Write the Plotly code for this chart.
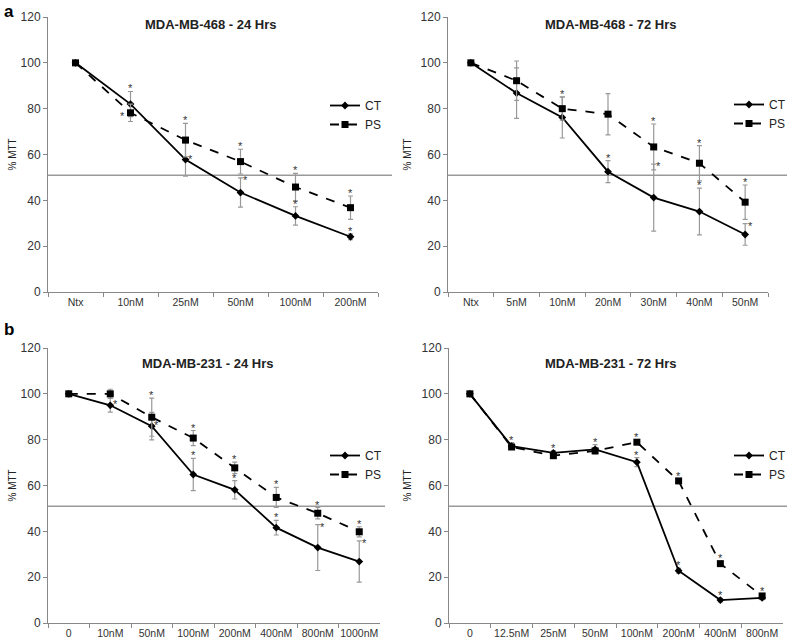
import plotly.graph_objects as go

# MDA-MB-468, 24 h
a24_labels = ["Ntx", "10nM", "25nM", "50nM", "100nM", "200nM"]
a24_ct = [100, 82, 57.8, 43.4, 33.2, 24.1]
a24_ct_err = [0, 5.5, 7.3, 6.4, 4, 1.3]
a24_ps = [100, 78.2, 66.3, 56.9, 45.8, 36.8]
a24_ps_err = [0, 3.8, 7.3, 5.4, 6, 5.1]

# MDA-MB-468, 72 h
a72_labels = ["Ntx", "5nM", "10nM", "20nM", "30nM", "40nM", "50nM"]
a72_ct = [100, 86.8, 76.2, 52.5, 41.2, 35.1, 25.1]
a72_ct_err = [0, 11, 9, 4.8, 14.6, 10.2, 4.7]
a72_ps = [100, 92.2, 80, 77.6, 63.3, 56.2, 39.2]
a72_ps_err = [0, 8.6, 5, 9, 10, 7.7, 7.5]

# MDA-MB-231, 24 h
b24_labels = ["0", "10nM", "50nM", "100nM", "200nM", "400nM", "800nM", "1000nM"]
b24_ct = [100, 95, 85.9, 64.8, 58.1, 41.6, 32.9, 26.8]
b24_ct_err = [0, 3, 6, 7, 4, 3.2, 10, 9]
b24_ps = [100, 100, 89.8, 80.7, 67.7, 54.8, 47.9, 39.8]
b24_ps_err = [0, 2, 8.3, 3.3, 2.5, 4.4, 2.5, 2.2]

# MDA-MB-231, 72 h
b72_labels = ["0", "12.5nM", "25nM", "50nM", "100nM", "200nM", "400nM", "800nM"]
b72_ct = [100, 77.2, 74.2, 75.8, 70.2, 22.8, 10, 11]
b72_ct_err = [0, 1.5, 1, 2, 2, 1, 0.8, 0.8]
b72_ps = [100, 76.8, 73, 75.1, 78.9, 62, 25.9, 11.8]
b72_ps_err = [0, 1, 1, 1, 1, 1, 1, 1]

ic50_line = 51

# significance stars: (category index, series, placement)
a24_stars = [(1, "ct", "top"), (1, "ps", "left"), (2, "ps", "top"), (2, "ct", "mid"),
             (3, "ps", "top"), (3, "ct", "side"), (4, "ps", "top"), (4, "ct", "top"),
             (5, "ps", "top"), (5, "ct", "top")]
a72_stars = [(2, "ps", "top"), (3, "ct", "top"), (4, "ps", "top"), (4, "ct", "side"),
             (5, "ps", "top"), (5, "ct", "top"), (6, "ps", "top"), (6, "ct", "side")]
b24_stars = [(1, "ct", "mid"), (2, "ps", "top"), (2, "ct", "mid"), (3, "ps", "top"),
             (3, "ct", "top"), (4, "ps", "top"), (4, "ct", "top"), (5, "ps", "top"),
             (5, "ct", "top"), (6, "ps", "top"), (6, "ct", "side"), (7, "ps", "top"),
             (7, "ct", "side")]
b72_stars = [(1, "ct", "top"), (2, "ct", "top"), (3, "ct", "top"), (4, "ps", "top"),
             (4, "ct", "top"), (5, "ps", "top"), (5, "ct", "top"), (6, "ps", "top"),
             (6, "ct", "top"), (7, "ps", "top")]

W, H = 787, 643
FONT = "Liberation Sans, Arial, sans-serif"

panels = [
    dict(title="MDA-MB-468 - 24 Hrs", labels=a24_labels, ct=a24_ct, cte=a24_ct_err,
         ps=a24_ps, pse=a24_ps_err, stars=a24_stars,
         x=(48, 378), y=(292, 17), line_end=392, legend=(325, 91),
         title_pos=(210, 24), ylab_x=12),
    dict(title="MDA-MB-468 - 72 Hrs", labels=a72_labels, ct=a72_ct, cte=a72_ct_err,
         ps=a72_ps, pse=a72_ps_err, stars=a72_stars,
         x=(448, 768), y=(292, 17), line_end=787, legend=(729, 90),
         title_pos=(610, 24), ylab_x=407),
    dict(title="MDA-MB-231 - 24 Hrs", labels=b24_labels, ct=b24_ct, cte=b24_ct_err,
         ps=b24_ps, pse=b24_ps_err, stars=b24_stars,
         x=(48, 380), y=(623, 348), line_end=385, legend=(325, 441),
         title_pos=(207, 363), ylab_x=12),
    dict(title="MDA-MB-231 - 72 Hrs", labels=b72_labels, ct=b72_ct, cte=b72_ct_err,
         ps=b72_ps, pse=b72_ps_err, stars=b72_stars,
         x=(449, 783), y=(623, 348), line_end=787, legend=(729, 441),
         title_pos=(610, 363), ylab_x=407),
]

fig = go.Figure()
annotations = []
shapes = []
layout = {}

for i, p in enumerate(panels):
    n = i + 1
    xa = "xaxis" if n == 1 else f"xaxis{n}"
    ya = "yaxis" if n == 1 else f"yaxis{n}"
    xr = "x" if n == 1 else f"x{n}"
    yr = "y" if n == 1 else f"y{n}"
    lg = "legend" if n == 1 else f"legend{n}"

    x0, x1 = p["x"][0] / W, p["x"][1] / W
    y0, y1 = 1 - p["y"][0] / H, 1 - p["y"][1] / H

    layout[xa] = dict(domain=[x0, x1], anchor=yr, type="category",
                      range=[-0.5, len(p["labels"]) - 0.5],
                      tickson="boundaries", ticks="outside", ticklen=4,
                      tickcolor="#888", showline=True, linecolor="#888",
                      showgrid=False, zeroline=False, tickangle=0,
                      tickfont=dict(size=10.5, color="#333", family=FONT))
    layout[ya] = dict(domain=[y0, y1], anchor=xr, range=[0, 120], dtick=20,
                      ticks="outside", ticklen=4, tickcolor="#888",
                      showline=True, linecolor="#888", showgrid=False,
                      zeroline=False,
                      tickfont=dict(size=12, color="#333", family=FONT))
    layout[lg] = dict(x=p["legend"][0] / W, y=1 - p["legend"][1] / H,
                      xanchor="left", yanchor="top", bgcolor="rgba(0,0,0,0)",
                      font=dict(size=12, color="#222", family=FONT),
                      tracegroupgap=0, itemwidth=30)

    fig.add_trace(go.Scatter(
        x=p["labels"], y=p["ct"], name="CT", xaxis=xr, yaxis=yr, legend=lg,
        mode="lines+markers",
        line=dict(color="black", width=1.8),
        marker=dict(symbol="diamond", size=6, color="black"),
        error_y=dict(type="data", array=p["cte"], color="#999",
                     thickness=1.2, width=2.5)))
    fig.add_trace(go.Scatter(
        x=p["labels"], y=p["ps"], name="PS", xaxis=xr, yaxis=yr, legend=lg,
        mode="lines+markers",
        line=dict(color="black", width=1.8, dash="dash"),
        marker=dict(symbol="square", size=7, color="black"),
        error_y=dict(type="data", array=p["pse"], color="#999",
                     thickness=1.2, width=2.5)))

    shapes.append(dict(type="line", xref="paper", yref=yr, x0=x0,
                       x1=p["line_end"] / W, y0=ic50_line, y1=ic50_line,
                       line=dict(color="#999", width=1.5), layer="below"))

    annotations.append(dict(text="<b>" + p["title"] + "</b>", xref="paper",
                            yref="paper", x=p["title_pos"][0] / W,
                            y=1 - p["title_pos"][1] / H,
                            xanchor="center", yanchor="middle", showarrow=False,
                            font=dict(size=13, color="#222", family=FONT)))
    annotations.append(dict(text="% MTT", xref="paper", yref="paper",
                            x=p["ylab_x"] / W, y=(y0 + y1) / 2,
                            xanchor="center", yanchor="middle",
                            textangle=-90, showarrow=False,
                            font=dict(size=10, color="#222", family=FONT)))

    for idx, series, where in p["stars"]:
        val = p[series][idx]
        err = p[series + "e"][idx]
        if where == "top":
            yy, dx, dy = val + err, 0, 3
        elif where == "side":
            yy, dx, dy = val + err, 5, -2
        elif where == "mid":
            yy, dx, dy = val, 5, 1
        else:
            yy, dx, dy = val, -8, -3
        annotations.append(dict(text="*", x=p["labels"][idx], y=yy, xref=xr,
                                yref=yr, xshift=dx, yshift=dy, showarrow=False,
                                font=dict(size=11, color="#333", family=FONT)))

annotations.append(dict(text="<b>a</b>", xref="paper", yref="paper",
                        x=2 / W, y=1 - 0 / H, xanchor="left", yanchor="top",
                        showarrow=False,
                        font=dict(size=17, color="black", family=FONT)))
annotations.append(dict(text="<b>b</b>", xref="paper", yref="paper",
                        x=2 / W, y=1 - 318 / H, xanchor="left", yanchor="top",
                        showarrow=False,
                        font=dict(size=17, color="black", family=FONT)))

fig.update_layout(width=W, height=H,
                  margin=dict(l=0, r=0, t=0, b=0, autoexpand=False),
                  paper_bgcolor="white", plot_bgcolor="white",
                  font=dict(family=FONT), showlegend=True,
                  annotations=annotations, shapes=shapes, **layout)

# drop the browser's default page margin so the figure sits at the corner
fig.write_html("out.html", config={"displayModeBar": False},
               post_script="document.body.style.margin='0';"
                           "document.body.style.overflow='hidden';")
